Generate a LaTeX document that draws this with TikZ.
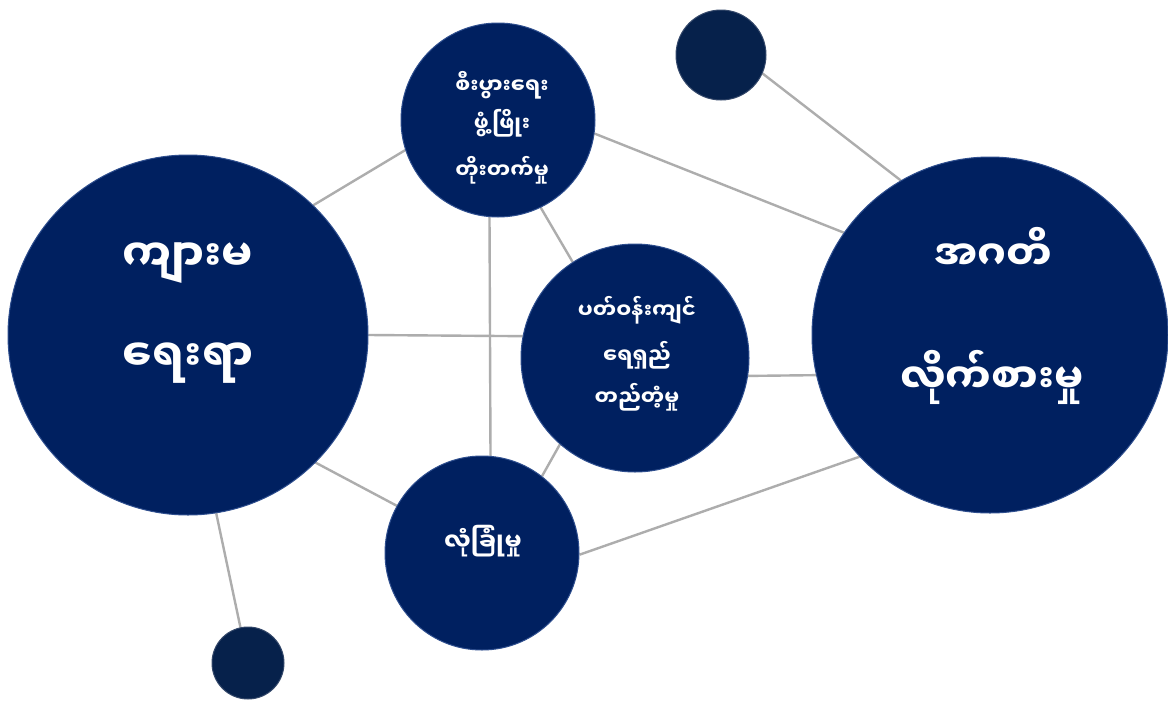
\documentclass[tikz,border=0pt]{standalone}
\usepackage{fontspec}
\newfontfamily\mya[Script=Myanmar]{Noto Sans Myanmar UI}
\usetikzlibrary{backgrounds}
\definecolor{navy}{HTML}{002060}
\definecolor{navyedge}{HTML}{2E4E8E}
\definecolor{darknavy}{HTML}{06214B}
\definecolor{darkedge}{HTML}{34486A}
\definecolor{linkgray}{HTML}{ADADAD}
\begin{document}
\begin{tikzpicture}[x=1pt,y=-1pt,
  bigc/.style={circle,fill=navy,draw=navyedge,line width=1pt,inner sep=0pt},
  dotc/.style={circle,fill=darknavy,draw=darkedge,line width=1pt,inner sep=0pt},
  link/.style={draw=linkgray,line width=2.4pt},
  lbl/.style={text=white,anchor=base,inner sep=0pt},
  bigtxt/.style={lbl,font=\mya\bfseries\fontsize{41}{48}\selectfont},
  lefttxt/.style={lbl,font=\mya\bfseries\fontsize{44}{50}\selectfont},
  smalltxt/.style={lbl,font=\mya\bfseries\fontsize{21}{25}\selectfont},
  midtxt/.style={lbl,font=\mya\bfseries\fontsize{24}{28}\selectfont}]
\useasboundingbox (0,0) rectangle (1168,702);
% circles
\node[bigc,minimum size=360pt] (L) at (188,335) {};
\node[bigc,minimum size=356pt] (R) at (990,335) {};
\node[bigc,minimum size=194pt] (T) at (498,120) {};
\node[bigc,minimum size=228pt] (C) at (635,358) {};
\node[bigc,minimum size=194pt] (B) at (482,553) {};
\node[dotc,minimum size=90pt] (S1) at (721,55) {};
\node[dotc,minimum size=72pt] (S2) at (248,663) {};
% links
\begin{scope}[on background layer]
\fill[white] (0,0) rectangle (1168,702);
\draw[link] (L.46.5) -- (T.198);
\draw[link] (L.-0.6) -- (C.169.4);
\draw[link] (L.-45.4) -- (B.151);
\draw[link] (L.-81.5) -- (S2.102.5);
\draw[link] (T.-8.6) -- (R.145.5);
\draw[link] (T.-64.6) -- (C.123.6);
\draw[link] (T.-95.3) -- (B.85.8);
\draw[link] (C.-9.5) -- (R.193.6);
\draw[link] (C.229.9) -- (B.52.4);
\draw[link] (B.-1) -- (R.223.2);
\draw[link] (S1.-24.4) -- (R.120);
\end{scope}
% texts
\node[lefttxt] (L1) at (188,271) {ကျားမ};
\node[lefttxt] (L2) at (188,371) {ရေးရာ};
\node[bigtxt] (R1) at (993,270) {အဂတိ};
\node[bigtxt] (R2) at (992,393) {လိုက်စားမှု};
\node[smalltxt] (T1) at (502,93) {စီးပွားရေး};
\node[smalltxt] (T2) at (502,131) {ဖွံ့ဖြိုး};
\node[smalltxt] (T3) at (502,178) {တိုးတက်မှု};
\node[smalltxt] (C1) at (637,318) {ပတ်ဝန်းကျင်};
\node[smalltxt] (C2) at (637,363) {ရေရှည်};
\node[smalltxt] (C3) at (637,405) {တည်တံ့မှု};
\node[midtxt] (B1) at (483,550) {လုံခြုံမှု};
\end{tikzpicture}
\end{document}
